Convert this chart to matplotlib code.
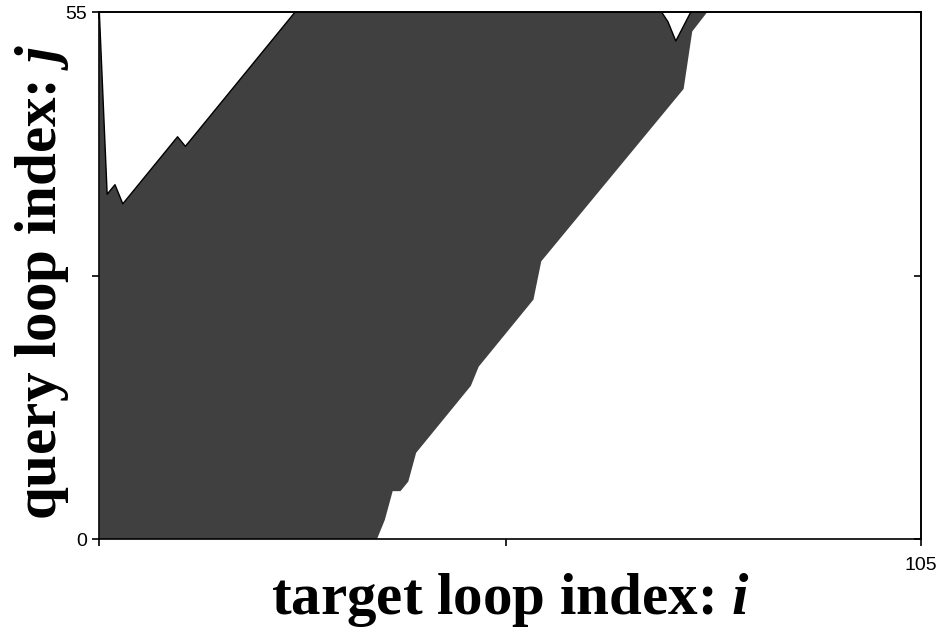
import matplotlib
matplotlib.use("Agg")
import matplotlib.pyplot as plt

plt.rcParams["mathtext.fontset"] = "custom"
plt.rcParams["mathtext.rm"] = "Liberation Serif:bold"
plt.rcParams["mathtext.it"] = "Liberation Serif:italic:bold"

# Upper edge of the feasible region (target index i, query index j)
upper_i = [0, 1, 2, 3, 10, 11, 25, 71.9, 72.7, 73.7, 75.6, 77.7]
upper_j = [55, 36, 37, 35, 42, 41, 55, 55, 54, 52, 55, 55]

# Lower edge of the feasible region
lower_i = [35.5, 36.5, 37.5, 38.5, 39.5, 40.5, 47.5, 48.5, 55.5, 56.5, 74.7, 75.8, 77.7]
lower_j = [0, 2, 5, 5, 6, 9, 16, 18, 25, 29, 47, 53, 55]

x_max, y_max = 105, 55
x_ticks = [0, 52, 105]
x_tick_labels = ["", "", "105"]
y_ticks = [0, 27.5, 55]
y_tick_labels = ["0", "", "55"]

fig = plt.figure(figsize=(9.38, 6.3), dpi=100)
ax = fig.add_axes([0.1059, 0.1444, 0.8756, 0.8361])

poly_x = [0] + upper_i + lower_i[::-1]
poly_y = [0] + upper_j + lower_j[::-1]
ax.fill(poly_x, poly_y, color="#404040", lw=0)
ax.plot(upper_i, upper_j, color="black", lw=1.0)

ax.set_xlim(0, x_max)
ax.set_ylim(0, y_max)

ax.set_xticks(x_ticks)
ax.set_xticklabels(x_tick_labels, fontsize=14, family="Liberation Sans")
ax.set_yticks(y_ticks)
ax.set_yticklabels(y_tick_labels, fontsize=14, family="Liberation Sans")
ax.tick_params(axis="both", direction="out", length=5, width=1.2, pad=8)
ax.tick_params(axis="y", pad=4)

# inward ticks on the opposite spines
ax_top = ax.secondary_xaxis("top")
ax_top.set_xticks(x_ticks)
ax_top.set_xticklabels([])
ax_top.tick_params(direction="in", length=5, width=1.2)
ax_right = ax.secondary_yaxis("right")
ax_right.set_yticks(y_ticks)
ax_right.set_yticklabels([])
ax_right.tick_params(direction="in", length=5, width=1.2)

for sp in list(ax.spines.values()) + [ax_top.spines["top"], ax_right.spines["right"]]:
    sp.set_linewidth(1.2)

ax.set_xlabel("target loop index: $i$", fontsize=42.5, family="Liberation Serif",
              fontweight="bold")
ax.xaxis.set_label_coords(0.5, -0.06)
ax.set_ylabel("query loop index: $j$", fontsize=42.5, family="Liberation Serif",
              fontweight="bold")
ax.yaxis.set_label_coords(-0.035, 0.488)

fig.savefig("out.png", dpi=100)
